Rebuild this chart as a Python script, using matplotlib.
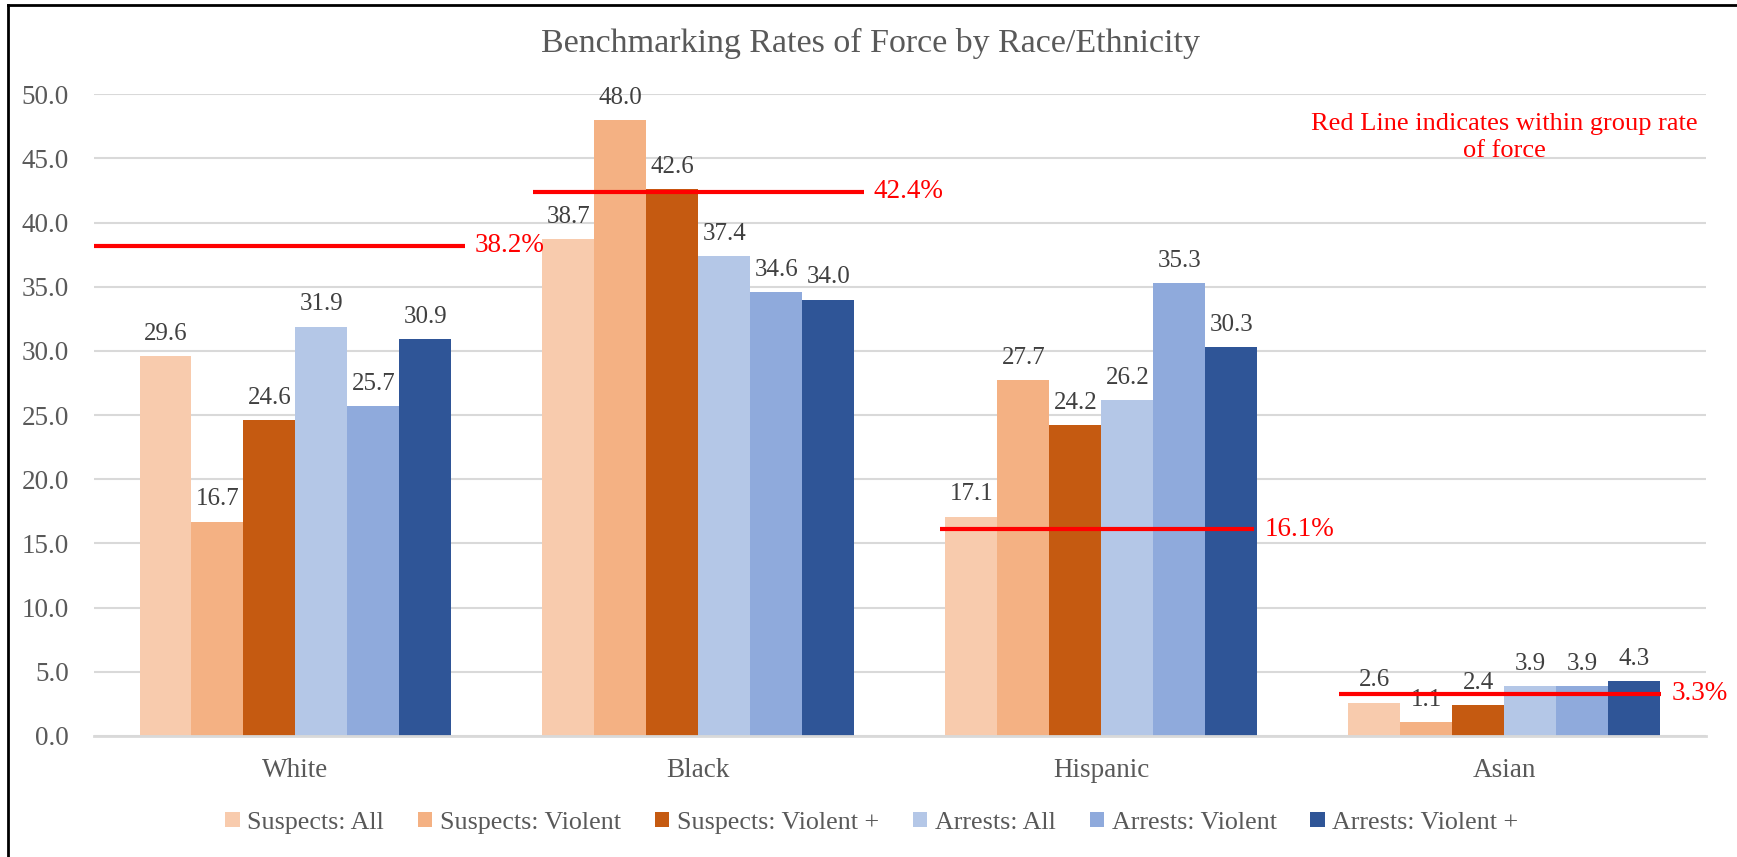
import numpy as np
import matplotlib
matplotlib.use('Agg')
import matplotlib.pyplot as plt
from matplotlib.lines import Line2D

# Data
groups = ['White', 'Black', 'Hispanic', 'Asian']
series = ['Suspects: All', 'Suspects: Violent', 'Suspects: Violent +',
          'Arrests: All', 'Arrests: Violent', 'Arrests: Violent +']
suspects_all = [29.6, 38.7, 17.1, 2.6]
suspects_violent = [16.7, 48.0, 27.7, 1.1]
suspects_violent_plus = [24.6, 42.6, 24.2, 2.4]
arrests_all = [31.9, 37.4, 26.2, 3.9]
arrests_violent = [25.7, 34.6, 35.3, 3.9]
arrests_violent_plus = [30.9, 34.0, 30.3, 4.3]
within_group_rate = [38.2, 42.4, 16.1, 3.3]

colors = ['#F8CBAD', '#F4B183', '#C55A11', '#B4C7E7', '#8FAADC', '#2F5597']
text_gray = '#595959'

plt.rcParams['font.family'] = ['Liberation Serif', 'DejaVu Serif']

fig = plt.figure(figsize=(17.37, 8.57), dpi=100)
ax = fig.add_axes([0.0541, 0.1412, 0.9279, 0.7488])

values = [suspects_all, suspects_violent, suspects_violent_plus,
          arrests_all, arrests_violent, arrests_violent_plus]
x = np.arange(len(groups))
width = 0.129

# Bars with value labels
for i, (name, vals) in enumerate(zip(series, values)):
	offs = (i - 2.5) * width
	bars = ax.bar(x + offs, vals, width, color=colors[i], label=name, zorder=2)
	for b, v in zip(bars, vals):
		ax.annotate(f'{v:.1f}', (b.get_x() + b.get_width() / 2, v),
		            xytext=(0, 16), textcoords='offset points',
		            ha='center', va='center', fontsize=18, color='#404040', zorder=4)

# Red lines for within group rate of force
line_spans = [(-0.5, 0.42), (0.59, 1.41), (1.60, 2.38), (2.59, 3.39)]
for (x0, x1), r in zip(line_spans, within_group_rate):
	ax.plot([x0, x1], [r, r], color='red', lw=3, zorder=5, solid_capstyle='butt')
	ax.annotate(f'{r:.1f}%', (x1, r), xytext=(7, 0), textcoords='offset points',
	            ha='left', va='center', fontsize=19.5, color='red', zorder=5)

ax.text(3.0, 46.6, 'Red Line indicates within group rate\nof force', color='red',
        fontsize=19, ha='center', va='center', linespacing=1.3)

# Axes styling
ax.set_xlim(-0.5, 3.5)
ax.set_ylim(0, 50)
ax.set_yticks(np.arange(0, 50.1, 5))
ax.set_yticklabels([f'{t:.1f}' for t in np.arange(0, 50.1, 5)])
ax.set_xticks(x)
ax.set_xticklabels(groups)
ax.tick_params(axis='y', length=0, pad=18, labelsize=19.5, labelcolor=text_gray)
ax.tick_params(axis='x', length=0, pad=16, labelsize=19.5, labelcolor=text_gray)
ax.grid(axis='y', color='#D9D9D9', lw=1.5, zorder=0)
for s in ['top', 'right', 'left']:
	ax.spines[s].set_visible(False)
ax.spines['bottom'].set_color('#D9D9D9')
ax.spines['bottom'].set_linewidth(2)

# Title is centred on the whole figure
fig.text(0.501, 0.949, 'Benchmarking Rates of Force by Race/Ethnicity', fontsize=24.5,
         color=text_gray, ha='center', va='center')

# Legend under the chart
leg = fig.legend(loc='center', bbox_to_anchor=(0.502, 0.040), ncol=6, frameon=False,
                 fontsize=18.7, handlelength=0.55, handleheight=0.55,
                 handletextpad=0.3, columnspacing=1.3)
for t in leg.get_texts():
	t.set_color(text_gray)

# Black frame (left and top edges visible)
fig.add_artist(Line2D([0.0046, 0.0046], [0, 0.994], color='black', lw=2))
fig.add_artist(Line2D([0.0046, 1], [0.994, 0.994], color='black', lw=2))

plt.savefig('out.png', dpi=100)
